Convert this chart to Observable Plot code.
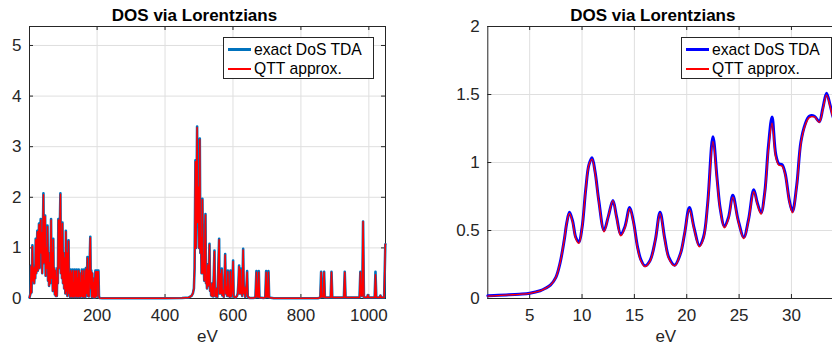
<!DOCTYPE html>
<html><head><meta charset="utf-8">
<script src="https://cdn.jsdelivr.net/npm/d3@7"></script>
<script src="https://cdn.jsdelivr.net/npm/@observablehq/plot@0.6"></script>
<style>
html,body{margin:0;padding:0;background:#fff;overflow:hidden}
#wrap{position:relative;width:832px;height:347px;overflow:hidden;font-family:"Liberation Sans",Arial,Helvetica,sans-serif}
.panel{position:absolute;top:0}
.panel svg{max-width:none;display:block}
.legend{position:absolute;background:#fff;border:1px solid #262626;box-sizing:border-box;height:42px;width:151px}
.lg-line{position:absolute;left:4px;width:23px}
.lg-text{position:absolute;left:30px;font-size:15.7px;color:#000;line-height:1;white-space:nowrap}
</style></head><body><div id="wrap"></div>
<script>
// ---- data ----
const title = "DOS via Lorentzians";
const xLabel = "eV";
const seriesNames = ["exact DoS TDA", "QTT approx."];

const leftXTicks = [200, 400, 600, 800, 1000];
const leftYTicks = [0, 1, 2, 3, 4, 5];
const rightXTicks = [5, 10, 15, 20, 25, 30];
const rightYTicks = [0, 0.5, 1, 1.5, 2];

const leftExact = [[1,0.02],[4,0.1],[5.6,0.65],[7,0.12],[9.5,1.05],[11,0.35],[13,0.6],[15,0.3],[17,0.65],[18,0.4],[19.3,1.18],[21,0.5],[22.5,0.9],[24,1.34],[25.5,0.55],[27,1.0],[29,1.48],[30.5,0.6],[32,1.2],[34,1.57],[35.5,0.9],[37,1.3],[38.5,0.5],[40,1.1],[42,2.08],[43.5,0.7],[45,1.3],[47,1.64],[48.5,0.45],[50,1.0],[52,0.6],[54,1.44],[55.5,0.35],[57,0.9],[58.5,0.25],[60,0.7],[62,0.3],[64.5,1.57],[66,0.4],[68,0.9],[69.5,0.15],[71,1.18],[72.5,0.2],[74,0.6],[75.5,0.08],[77,0.55],[78.5,0.05],[80,0.4],[81.5,0.05],[83,0.6],[84.5,0.3],[86,1.57],[88,0.6],[90,1.3],[92,2.08],[93.5,0.5],[95,1.2],[96.5,0.4],[98,1.5],[99.5,0.3],[101,0.9],[103,0.2],[105,0.8],[106.5,0.1],[108,1.34],[109.5,0.15],[111,0.9],[112.5,0.05],[114,0.6],[116,1.15],[117.5,0.1],[119,0.5],[120.5,0.03],[122,0.57],[123.5,0.05],[125,0.5],[126.5,0.03],[128,0.57],[129.5,0.04],[131,0.3],[132.5,0.03],[134,0.57],[135.5,0.06],[137,0.55],[138.5,0.03],[140,0.57],[141.5,0.05],[143,0.4],[144.5,0.03],[146,0.57],[147.5,0.05],[149,0.5],[150.5,0.03],[152,0.3],[153.5,0.05],[155,0.57],[156.5,0.04],[158,0.45],[159.5,0.03],[161,0.57],[162.5,0.05],[164,0.35],[165.5,0.03],[167,0.6],[168.5,0.1],[170,0.3],[171.5,0.82],[173,0.05],[174.5,0.57],[176,0.04],[178,0.7],[180,1.22],[181.5,0.2],[183,0.55],[184.5,0.03],[186,0.5],[187.5,0.05],[189,0.3],[190.5,0.02],[192,0.4],[193.5,0.02],[195,0.55],[196.5,0.05],[198,0.55],[199.5,0.05],[201,0.55],[202.5,0.3],[204,0.55],[205.5,0.05],[207,0.01],[215,0.005],[300,0.004],[400,0.006],[450,0.01],[470,0.02],[478,0.05],[482,0.1],[485,0.2],[487,0.6],[489.5,2.73],[491,1.0],[492.5,1.8],[494.4,3.4],[496,1.5],[498.4,2.2],[500,1.0],[502.3,3.16],[504,0.9],[506,1.2],[507.5,0.5],[510,1.97],[512,0.5],[514,0.68],[515.5,0.35],[517,1.0],[519,1.67],[520.5,0.3],[522,0.42],[523.5,0.2],[526,0.68],[527.5,0.25],[529,0.5],[530.8,1.08],[532.5,0.15],[534,0.3],[535.7,0.06],[538,0.05],[540,0.3],[541.5,0.04],[543.5,0.5],[545.5,0.95],[547,0.05],[549.4,0.04],[552,0.2],[554,0.03],[556,0.4],[559.2,1.18],[560.5,0.1],[562,0.3],[563,0.49],[564.5,0.1],[567,0.59],[568.5,0.06],[571,0.16],[573,0.03],[575,0.3],[577,0.88],[579,0.1],[581,0.22],[583,0.05],[585,0.55],[587,0.05],[588.7,0.125],[590.5,0.03],[592.6,0.55],[594.5,0.04],[596.5,0.09],[598,0.2],[600.4,0.75],[602,0.05],[604.4,0.03],[608,0.02],[612,0.05],[614,0.1],[616,0.3],[618,0.65],[619.5,0.1],[620.5,0.3],[622,0.59],[623.5,0.1],[625,0.22],[627,0.05],[628.5,0.5],[630,0.98],[632,0.1],[634,0.22],[636,0.03],[638,0.1],[640,0.3],[641.7,0.54],[643.5,0.04],[648,0.01],[660,0.01],[666,0.02],[669,0.54],[671,0.03],[674,0.03],[676,0.54],[678,0.02],[690,0.01],[695,0.02],[697.6,0.54],[699.5,0.03],[702.5,0.03],[704.5,0.54],[706.5,0.02],[720,0.005],[850,0.005],[857,0.02],[859.5,0.53],[861.5,0.03],[866,0.03],[868.3,0.53],[870.5,0.02],[887.5,0.02],[890,0.53],[892.5,0.02],[926.5,0.02],[929,0.53],[931.5,0.02],[972.5,0.02],[975,0.53],[977.5,0.05],[980.5,0.05],[983,1.52],[985.5,0.02],[995,0.02],[997,0.07],[999,0.02],[1017,0.02],[1019.5,0.53],[1022,0.02],[1032,0.02],[1034,0.06],[1036,0.02],[1045,0.02],[1048.5,1.07],[1049,1.07]];

const leftQtt = [[1,0.02],[4,0.1],[5.6,0.63],[7,0.12],[9.5,1.03],[11,0.35],[13,0.6],[15,0.3],[17,0.63],[18,0.4],[19.3,1.16],[21,0.5],[22.5,0.9],[24,1.32],[25.5,0.55],[27,1.0],[29,1.46],[30.5,0.6],[32,1.2],[34,1.55],[35.5,0.9],[37,1.3],[38.5,0.5],[40,1.1],[42,2.05],[43.5,0.7],[45,1.3],[47,1.62],[48.5,0.45],[50,1.0],[52,0.6],[54,1.42],[55.5,0.35],[57,0.9],[58.5,0.25],[60,0.7],[62,0.3],[64.5,1.55],[66,0.4],[68,0.9],[69.5,0.15],[71,1.16],[72.5,0.2],[74,0.6],[75.5,0.08],[77,0.55],[78.5,0.05],[80,0.4],[81.5,0.05],[83,0.6],[84.5,0.3],[86,1.55],[88,0.6],[90,1.3],[92,2.06],[93.5,0.5],[95,1.2],[96.5,0.4],[98,1.48],[99.5,0.3],[101,0.9],[103,0.2],[105,0.8],[106.5,0.1],[108,1.32],[109.5,0.15],[111,0.9],[112.5,0.05],[114,0.6],[116,1.13],[117.5,0.1],[119,0.5],[120.5,0.03],[122,0.55],[123.5,0.05],[125,0.5],[126.5,0.03],[128,0.55],[129.5,0.04],[131,0.3],[132.5,0.03],[134,0.55],[135.5,0.06],[137,0.53],[138.5,0.03],[140,0.55],[141.5,0.05],[143,0.4],[144.5,0.03],[146,0.55],[147.5,0.05],[149,0.5],[150.5,0.03],[152,0.3],[153.5,0.05],[155,0.55],[156.5,0.04],[158,0.45],[159.5,0.03],[161,0.55],[162.5,0.05],[164,0.35],[165.5,0.03],[167,0.58],[168.5,0.1],[170,0.3],[171.5,0.8],[173,0.05],[174.5,0.55],[176,0.04],[178,0.7],[180,1.2],[181.5,0.2],[183,0.53],[184.5,0.03],[186,0.5],[187.5,0.05],[189,0.3],[190.5,0.02],[192,0.4],[193.5,0.02],[195,0.53],[196.5,0.05],[198,0.53],[199.5,0.05],[201,0.53],[202.5,0.3],[204,0.53],[205.5,0.05],[207,0.01],[215,0.005],[300,0.004],[400,0.006],[450,0.01],[470,0.02],[478,0.05],[482,0.1],[485,0.2],[487,0.6],[489.5,2.7],[491,1.0],[492.5,1.8],[494.4,3.38],[496,1.5],[498.4,2.2],[500,1.0],[502.3,3.14],[504,0.9],[506,1.2],[507.5,0.5],[510,1.95],[512,0.5],[514,0.68],[515.5,0.35],[517,1.0],[519,1.65],[520.5,0.3],[522,0.42],[523.5,0.2],[526,0.66],[527.5,0.25],[529,0.5],[530.8,1.06],[532.5,0.15],[534,0.3],[535.7,0.06],[538,0.05],[540,0.3],[541.5,0.04],[543.5,0.5],[545.5,0.93],[547,0.05],[549.4,0.04],[552,0.2],[554,0.03],[556,0.4],[559.2,1.16],[560.5,0.1],[562,0.3],[563,0.49],[564.5,0.1],[567,0.57],[568.5,0.06],[571,0.16],[573,0.03],[575,0.3],[577,0.86],[579,0.1],[581,0.22],[583,0.05],[585,0.53],[587,0.05],[588.7,0.125],[590.5,0.03],[592.6,0.53],[594.5,0.04],[596.5,0.09],[598,0.2],[600.4,0.73],[602,0.05],[604.4,0.03],[608,0.02],[612,0.05],[614,0.1],[616,0.3],[618,0.63],[619.5,0.1],[620.5,0.3],[622,0.57],[623.5,0.1],[625,0.22],[627,0.05],[628.5,0.5],[630,0.96],[632,0.1],[634,0.22],[636,0.03],[638,0.1],[640,0.3],[641.7,0.52],[643.5,0.04],[648,0.01],[660,0.01],[666,0.02],[669,0.52],[671,0.03],[674,0.03],[676,0.52],[678,0.02],[690,0.01],[695,0.02],[697.6,0.52],[699.5,0.03],[702.5,0.03],[704.5,0.52],[706.5,0.02],[720,0.005],[850,0.005],[857,0.02],[859.5,0.52],[861.5,0.03],[866,0.03],[868.3,0.52],[870.5,0.02],[887.5,0.02],[890,0.52],[892.5,0.02],[926.5,0.02],[929,0.52],[931.5,0.02],[972.5,0.02],[975,0.52],[977.5,0.05],[980.5,0.05],[983,1.52],[985.5,0.02],[995,0.02],[997,0.07],[999,0.02],[1017,0.02],[1019.5,0.47],[1022,0.02],[1032,0.02],[1034,0.06],[1036,0.02],[1045,0.02],[1048.5,1.07],[1049,1.07]];

const rightExact = [[1,0.020],[2,0.023],[3,0.027],[4,0.032],[5,0.039],[6,0.057],[6.5,0.075],[7,0.10],[7.5,0.155],[7.9,0.26],[8.3,0.43],[8.55,0.56],[8.8,0.635],[9.1,0.57],[9.4,0.45],[9.7,0.415],[10.0,0.52],[10.35,0.80],[10.65,0.98],[10.95,1.035],[11.25,0.93],[11.6,0.72],[12.1,0.50],[12.5,0.60],[12.95,0.72],[13.3,0.60],[13.7,0.47],[14.1,0.53],[14.55,0.67],[14.9,0.57],[15.3,0.38],[15.6,0.29],[16.0,0.24],[16.5,0.28],[17.0,0.43],[17.45,0.635],[17.9,0.44],[18.3,0.30],[18.85,0.245],[19.4,0.33],[19.8,0.48],[20.25,0.67],[20.7,0.52],[21.2,0.39],[21.6,0.45],[22.0,0.70],[22.5,1.19],[22.9,0.88],[23.2,0.66],[23.6,0.53],[24.0,0.60],[24.4,0.76],[24.9,0.58],[25.45,0.45],[25.9,0.58],[26.4,0.80],[26.75,0.70],[27.1,0.63],[27.45,0.78],[27.8,1.12],[28.15,1.335],[28.5,1.06],[28.8,0.99],[29.1,0.985],[29.4,0.92],[29.8,0.72],[30.1,0.64],[30.5,0.83],[30.9,1.15],[31.3,1.28],[31.7,1.34],[32.2,1.34],[32.65,1.30],[33.0,1.40],[33.35,1.51],[33.7,1.42],[34.0,1.33],[34.5,1.25],[35,1.2]];

const rightQtt = [[1,0.018],[2,0.021],[3,0.026],[4,0.031],[5,0.038],[6,0.056],[6.5,0.074],[7,0.10],[7.5,0.155],[7.9,0.26],[8.3,0.43],[8.55,0.56],[8.8,0.625],[9.1,0.56],[9.4,0.44],[9.7,0.405],[10.0,0.52],[10.35,0.80],[10.65,0.98],[10.95,1.025],[11.25,0.92],[11.6,0.71],[12.1,0.49],[12.5,0.60],[12.95,0.72],[13.3,0.59],[13.7,0.46],[14.1,0.52],[14.55,0.66],[14.9,0.56],[15.3,0.37],[15.6,0.28],[16.0,0.235],[16.5,0.275],[17.0,0.43],[17.45,0.625],[17.9,0.43],[18.3,0.29],[18.85,0.24],[19.4,0.33],[19.8,0.48],[20.25,0.655],[20.7,0.51],[21.2,0.38],[21.6,0.44],[22.0,0.69],[22.5,1.155],[22.9,0.86],[23.2,0.65],[23.6,0.52],[24.0,0.59],[24.4,0.745],[24.9,0.57],[25.45,0.44],[25.9,0.57],[26.4,0.785],[26.75,0.69],[27.1,0.62],[27.45,0.77],[27.8,1.09],[28.15,1.29],[28.5,1.04],[28.8,0.98],[29.1,0.975],[29.4,0.91],[29.8,0.71],[30.1,0.63],[30.5,0.82],[30.9,1.14],[31.3,1.27],[31.7,1.33],[32.2,1.335],[32.65,1.295],[33.0,1.39],[33.35,1.495],[33.7,1.41],[34.0,1.32],[34.5,1.24],[35,1.19]];

// ---- drawing ----
const FONT = '"Liberation Sans", Arial, Helvetica, sans-serif';
const INK = "#262626";
const GRID = "#dfdfdf";
const fmt = d => String(d);

function panel({exact, qtt, blue, blueW, redW, curve, xDomain, yDomain, xTicks, yTicks, width, ml, mr}) {
  const H = 347, mt = 26, mb = 49;
  const pw = width - ml - mr, ph = H - mt - mb;
  return Plot.plot({
    width, height: H, marginLeft: ml, marginRight: mr, marginTop: mt, marginBottom: mb,
    style: {fontFamily: FONT, background: "transparent", overflow: "visible", maxWidth: "none"},
    x: {domain: xDomain},
    y: {domain: yDomain},
    marks: [
      Plot.ruleX(xTicks, {x: d => d, stroke: GRID, strokeOpacity: 1}),
      Plot.ruleY(yTicks, {y: d => d, stroke: GRID, strokeOpacity: 1}),
      Plot.frame({stroke: INK, strokeWidth: 1}),
      Plot.ruleX(xTicks, {x: d => d, stroke: INK, insetTop: ph - 4}),
      Plot.ruleX(xTicks, {x: d => d, stroke: INK, insetBottom: ph - 4}),
      Plot.ruleY(yTicks, {y: d => d, stroke: INK, insetRight: pw - 4}),
      Plot.ruleY(yTicks, {y: d => d, stroke: INK, insetLeft: pw - 4}),
      Plot.axisX(xTicks, {tickSize: 0, tickPadding: 10, fontSize: 17, fill: INK, label: null, tickFormat: fmt}),
      Plot.axisY(yTicks, {tickSize: 0, tickPadding: 8, fontSize: 17, fill: INK, label: null, tickFormat: fmt}),
      Plot.line(exact, {x: d => d[0], y: d => d[1], stroke: blue, strokeWidth: blueW, curve}),
      Plot.line(qtt, {x: d => d[0], y: d => d[1], stroke: "#ff0000", strokeWidth: redW, curve}),
      Plot.text([xLabel], {text: d => d, frameAnchor: "bottom", dy: 43, lineAnchor: "bottom", fontSize: 17, fill: INK}),
      Plot.text([title], {text: d => d, frameAnchor: "top", dy: -6, dx: -13, lineAnchor: "bottom", fontSize: 17, fontWeight: "bold", fill: "#000"})
    ]
  });
}

const wrap = document.getElementById("wrap");

function addPanel(left, width, svg) {
  const div = document.createElement("div");
  div.className = "panel";
  div.style.left = left + "px";
  div.style.width = width + "px";
  div.appendChild(svg);
  wrap.appendChild(div);
}

addPanel(0, 416, panel({
  exact: leftExact, qtt: leftQtt, blue: "#0072BD", blueW: 2.6, redW: 1.5, curve: "linear",
  xDomain: [1, 1049], yDomain: [0, 5.375], xTicks: leftXTicks, yTicks: leftYTicks,
  width: 416, ml: 29, mr: 31
}));

addPanel(416, 460, panel({
  exact: rightExact, qtt: rightQtt, blue: "#0000FF", blueW: 3, redW: 1.3, curve: "catmull-rom",
  xDomain: [1, 35], yDomain: [0, 2], xTicks: rightXTicks, yTicks: rightYTicks,
  width: 460, ml: 71.3, mr: 32.7
}));

function addLegend(left, top, blue, blueH, redH) {
  const lg = document.createElement("div");
  lg.className = "legend";
  lg.style.left = left + "px";
  lg.style.top = top + "px";
  const colors = [blue, "#ff0000"], heights = [blueH, redH], tops = [10, 30];
  seriesNames.forEach((name, i) => {
    const l = document.createElement("div");
    l.className = "lg-line";
    l.style.top = tops[i] + "px";
    l.style.height = heights[i] + "px";
    l.style.background = colors[i];
    lg.appendChild(l);
    const t = document.createElement("div");
    t.className = "lg-text";
    t.style.top = (tops[i] + heights[i] / 2 - 8) + "px";
    t.textContent = name;
    lg.appendChild(t);
  });
  wrap.appendChild(lg);
}
addLegend(223, 37, "#0072BD", 3, 2);
addLegend(681, 37, "#0000FF", 3, 2);
</script></body></html>
